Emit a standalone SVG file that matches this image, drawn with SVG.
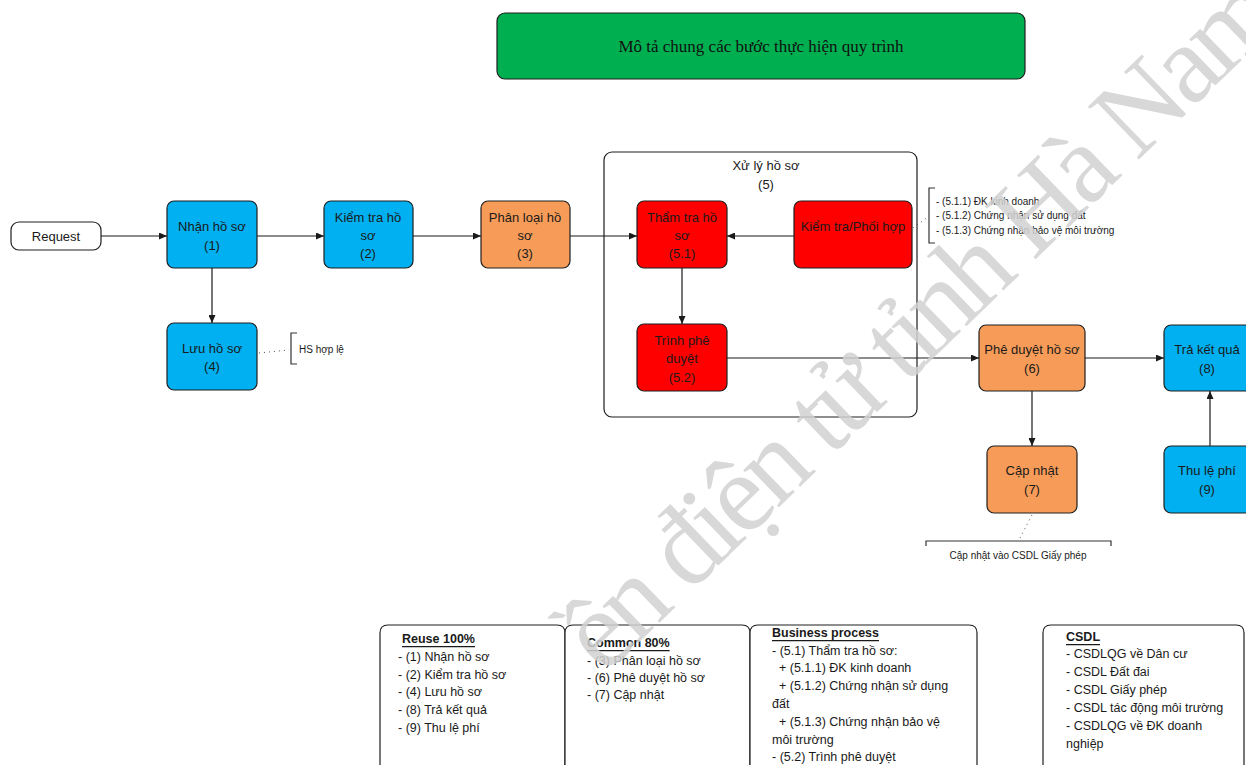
<svg xmlns="http://www.w3.org/2000/svg" width="1246" height="765" viewBox="0 0 1246 765">
  <style>
    .box { stroke: #1f1f1f; stroke-width: 1.2; }
    .blue { fill: #00B0F0; }
    .orange { fill: #F79C58; }
    .red { fill: #FF0000; }
    .white { fill: #ffffff; }
    .green { fill: #00AF50; }
    .lbl { font-family: "Liberation Sans", Arial, sans-serif; font-size: 13px; fill: #1a1a1a; text-anchor: middle; dominant-baseline: central; }
    .note { font-family: "Liberation Sans", Arial, sans-serif; font-size: 10px; fill: #1a1a1a; dominant-baseline: central; }
    .list { font-family: "Liberation Sans", Arial, sans-serif; font-size: 12.5px; fill: #1a1a1a; dominant-baseline: central; }
    .head { font-weight: bold; text-decoration: underline; }
    .title { font-family: "Liberation Serif", "Times New Roman", serif; font-size: 17px; fill: #111; text-anchor: middle; dominant-baseline: central; }
    .edge { stroke: #1a1a1a; stroke-width: 1.2; fill: none; }
    .dot { stroke: #555; stroke-width: 1; stroke-dasharray: 1 4; fill: none; }
    .brk { stroke: #333; stroke-width: 1.2; fill: none; }
    .wm { font-family: "Liberation Serif", "Times New Roman", serif; font-size: 112px; letter-spacing: -5px; fill: #d2d2d2; opacity: 0.85; }
  </style>
  <defs>
    <marker id="arrow" markerUnits="userSpaceOnUse" markerWidth="8" markerHeight="7" refX="8" refY="3.5" orient="auto">
      <path d="M0,0 L8,3.5 L0,7 z" fill="#1a1a1a"/>
    </marker>
  </defs>

  <rect width="1246" height="765" fill="#ffffff"/>

  <!-- title banner -->
  <g id="title">
    <rect class="box green" x="497" y="13" width="528" height="66" rx="8"/>
    <text class="title" x="761" y="46">Mô tả chung các bước thực hiện quy trình</text>
  </g>

  <!-- processing container (5) -->
  <g id="n5">
    <rect class="box white" x="604" y="152" width="313" height="265" rx="8"/>
    <text class="lbl" x="766" y="165">Xử lý hồ sơ</text>
    <text class="lbl" x="766" y="184">(5)</text>
  </g>

  <!-- connectors -->
  <g id="edges">
    <line class="edge" x1="101" y1="236" x2="167" y2="236" marker-end="url(#arrow)"/>
    <line class="edge" x1="257" y1="236" x2="324" y2="236" marker-end="url(#arrow)"/>
    <line class="edge" x1="413" y1="236" x2="481" y2="236" marker-end="url(#arrow)"/>
    <line class="edge" x1="570" y1="236" x2="637" y2="236" marker-end="url(#arrow)"/>
    <line class="edge" x1="794" y1="236" x2="727" y2="236" marker-end="url(#arrow)"/>
    <line class="edge" x1="212" y1="268" x2="212" y2="323" marker-end="url(#arrow)"/>
    <line class="edge" x1="682" y1="268" x2="682" y2="324" marker-end="url(#arrow)"/>
    <line class="edge" x1="727" y1="358" x2="979" y2="358" marker-end="url(#arrow)"/>
    <line class="edge" x1="1085" y1="358" x2="1164" y2="358" marker-end="url(#arrow)"/>
    <line class="edge" x1="1032" y1="391" x2="1032" y2="446" marker-end="url(#arrow)"/>
    <line class="edge" x1="1210" y1="446" x2="1210" y2="391" stroke="#666" marker-end="url(#arrow)"/>
  </g>

  <!-- process nodes -->
  <g id="request">
    <rect class="box white" x="11" y="222" width="90" height="28" rx="8"/>
    <text class="lbl" x="56" y="236">Request</text>
  </g>
  <g id="n1">
    <rect class="box blue" x="167" y="201" width="90" height="67" rx="7"/>
    <text class="lbl" x="212" y="226">Nhận hồ sơ</text>
    <text class="lbl" x="212" y="245">(1)</text>
  </g>
  <g id="n2">
    <rect class="box blue" x="324" y="201" width="89" height="67" rx="7"/>
    <text class="lbl" x="368" y="217">Kiểm tra hồ</text>
    <text class="lbl" x="368" y="235">sơ</text>
    <text class="lbl" x="368" y="253">(2)</text>
  </g>
  <g id="n3">
    <rect class="box orange" x="481" y="201" width="89" height="67" rx="7"/>
    <text class="lbl" x="525" y="217">Phân loại hồ</text>
    <text class="lbl" x="525" y="235">sơ</text>
    <text class="lbl" x="525" y="253">(3)</text>
  </g>
  <g id="n4">
    <rect class="box blue" x="167" y="323" width="90" height="67" rx="7"/>
    <text class="lbl" x="212" y="348">Lưu hồ sơ</text>
    <text class="lbl" x="212" y="366">(4)</text>
  </g>
  <g id="n51">
    <rect class="box red" x="637" y="201" width="90" height="67" rx="7"/>
    <text class="lbl" x="682" y="217">Thẩm tra hồ</text>
    <text class="lbl" x="682" y="235">sơ</text>
    <text class="lbl" x="682" y="253">(5.1)</text>
  </g>
  <g id="coord">
    <rect class="box red" x="794" y="201" width="118" height="67" rx="7"/>
    <text class="lbl" x="853" y="226">Kiểm tra/Phối hợp</text>
  </g>
  <g id="n52">
    <rect class="box red" x="637" y="324" width="90" height="67" rx="7"/>
    <text class="lbl" x="682" y="340">Trình phê</text>
    <text class="lbl" x="682" y="358">duyệt</text>
    <text class="lbl" x="682" y="377">(5.2)</text>
  </g>
  <g id="n6">
    <rect class="box orange" x="979" y="325" width="106" height="66" rx="7"/>
    <text class="lbl" x="1032" y="349">Phê duyệt hồ sơ</text>
    <text class="lbl" x="1032" y="368">(6)</text>
  </g>
  <g id="n8">
    <rect class="box blue" x="1164" y="325" width="90" height="66" rx="7"/>
    <text class="lbl" x="1207" y="349">Trả kết quả</text>
    <text class="lbl" x="1207" y="368">(8)</text>
  </g>
  <g id="n7">
    <rect class="box orange" x="987" y="446" width="90" height="67" rx="7"/>
    <text class="lbl" x="1032" y="470">Cập nhật</text>
    <text class="lbl" x="1032" y="489">(7)</text>
  </g>
  <g id="n9">
    <rect class="box blue" x="1164" y="446" width="90" height="67" rx="7"/>
    <text class="lbl" x="1207" y="470">Thu lệ phí</text>
    <text class="lbl" x="1207" y="489">(9)</text>
  </g>

  <!-- annotations -->
  <g id="note-hs">
    <path class="dot" d="M259,353 L289,350"/>
    <path class="brk" d="M297,333 L291,333 L291,364 L297,364"/>
    <text class="note" x="299" y="349">HS hợp lệ</text>
  </g>
  <g id="note-coord">
    <path class="dot" d="M913,228 L928,217"/>
    <path class="brk" d="M935,188 L929,188 L929,243 L935,243"/>
    <text class="note" x="936" y="201">- (5.1.1) ĐK kinh doanh</text>
    <text class="note" x="936" y="215">- (5.1.2) Chứng nhận sử dụng đất</text>
    <text class="note" x="936" y="230">- (5.1.3) Chứng nhận bảo vệ môi trường</text>
  </g>
  <g id="note-update">
    <path class="dot" d="M1032,515 L1019,540"/>
    <path class="brk" d="M926,546 L926,541 L1111,541 L1111,546"/>
    <text class="note" x="1018" y="555" text-anchor="middle">Cập nhật vào CSDL Giấy phép</text>
  </g>

  <!-- summary panels -->
  <g id="reuse">
    <path class="box white" d="M380,770 L380,633 Q380,625 388,625 L557,625 Q565,625 565,633 L565,770"/>
    <text class="list head" x="402" y="639">Reuse 100%</text>
    <text class="list" x="398" y="657">- (1) Nhận hồ sơ</text>
    <text class="list" x="398" y="675">- (2) Kiểm tra hồ sơ</text>
    <text class="list" x="398" y="692">- (4) Lưu hồ sơ</text>
    <text class="list" x="398" y="710">- (8) Trả kết quả</text>
    <text class="list" x="398" y="728">- (9) Thu lệ phí</text>
  </g>
  <g id="common">
    <path class="box white" d="M565,770 L565,633 Q565,625 573,625 L742,625 Q750,625 750,633 L750,770"/>
    <text class="list head" x="587" y="643">Common 80%</text>
    <text class="list" x="587" y="661">- (3) Phân loại hồ sơ</text>
    <text class="list" x="587" y="678">- (6) Phê duyệt hồ sơ</text>
    <text class="list" x="587" y="695">- (7) Cập nhật</text>
  </g>
  <g id="business">
    <path class="box white" d="M750,770 L750,633 Q750,625 758,625 L969,625 Q977,625 977,633 L977,770"/>
    <text class="list head" x="772" y="633">Business process</text>
    <text class="list" x="772" y="651">- (5.1) Thẩm tra hồ sơ:</text>
    <text class="list" x="772" y="668" xml:space="preserve">  + (5.1.1) ĐK kinh doanh</text>
    <text class="list" x="772" y="686" xml:space="preserve">  + (5.1.2) Chứng nhận sử dụng</text>
    <text class="list" x="772" y="704">đất</text>
    <text class="list" x="772" y="722" xml:space="preserve">  + (5.1.3) Chứng nhận bảo vệ</text>
    <text class="list" x="772" y="740">môi trường</text>
    <text class="list" x="772" y="757">- (5.2) Trình phê duyệt</text>
  </g>
  <g id="csdl">
    <path class="box white" d="M1043,770 L1043,633 Q1043,625 1051,625 L1236,625 Q1244,625 1244,633 L1244,770"/>
    <text class="list head" x="1066" y="637">CSDL</text>
    <text class="list" x="1066" y="654">- CSDLQG về Dân cư</text>
    <text class="list" x="1066" y="672">- CSDL Đất đai</text>
    <text class="list" x="1066" y="690">- CSDL Giấy phép</text>
    <text class="list" x="1066" y="708">- CSDL tác động môi trường</text>
    <text class="list" x="1066" y="726">- CSDLQG về ĐK doanh</text>
    <text class="list" x="1066" y="744">nghiệp</text>
  </g>

  <!-- watermark -->
  <text class="wm" transform="translate(604,676) rotate(-44)">ền điện tử tỉnh Hà Nam</text>
</svg>
